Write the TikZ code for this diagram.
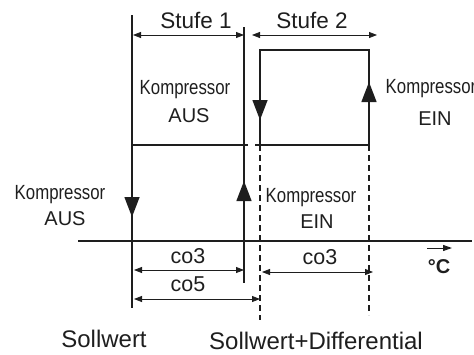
\documentclass[tikz,border=0pt]{standalone}
\usepackage{fontspec}
\setmainfont{Liberation Sans}
\newfontfamily\narrowfont[FakeStretch=0.82]{Liberation Sans}
\usetikzlibrary{arrows.meta}
\definecolor{ink}{HTML}{1E1E1E}
\tikzset{
  main/.style={draw=ink, line width=1.4pt},
  dim/.style={draw=ink, line width=0.8pt, {Triangle[length=8pt,width=6pt]}-{Triangle[length=8pt,width=6pt]}},
  dashline/.style={draw=ink, line width=1.2pt, dash pattern=on 6pt off 4pt},
  bigtip/.style={draw=ink, line width=1.4pt, -{Triangle[length=20pt,width=15pt]}},
  lbl/.style={anchor=base, inner sep=0pt, text=ink},
  stufe/.style={lbl, font=\fontsize{22.5}{27}\selectfont},
  colbl/.style={lbl, font=\fontsize{21.5}{26}\selectfont},
  komp/.style={lbl, font=\narrowfont\fontsize{20.5}{24}\selectfont},
  state/.style={lbl, font=\fontsize{20}{24}\selectfont},
  bottom/.style={lbl, font=\fontsize{24}{29}\selectfont},
}
\begin{document}
\begin{tikzpicture}[x={(1pt,0)}, y={(0,-1pt)}]
\useasboundingbox (0,0) rectangle (474,354);
% coordinates
\coordinate (L1t) at (132,15);  \coordinate (L1b) at (132,308);
\coordinate (L2t) at (244,27);  \coordinate (L2b) at (244,283);
\coordinate (B1) at (260,145); \coordinate (B2) at (260,50);
\coordinate (B3) at (369,50);  \coordinate (B4) at (369,145);
\coordinate (D1) at (260,320); \coordinate (D2) at (369,315);
\coordinate (H1) at (132,145); \coordinate (H2) at (248,145);
\coordinate (H3) at (255,145);
\coordinate (Ax1) at (78,241); \coordinate (Ax2) at (472,241);
% main lines
\draw[main] (L1t) -- (L1b);
\draw[main] (L2t) -- (L2b);
\draw[main] (B1) -- (B2) -- (B3) -- (B4);
\draw[main] (H1) -- (H2);
\draw[main] (H3) -- (B4);
\draw[dashline] (B1) -- (D1);
\draw[dashline] (B4) -- (D2);
\draw[main] (Ax1) -- (Ax2);
% big arrows
\draw[bigtip] (132,190) -- (132,217);
\draw[bigtip] (244,208) -- (244,181);
\draw[bigtip] (260,93) -- (260,120);
\draw[bigtip] (369,109) -- (369,82);
% dimension lines
\coordinate (s1a) at (133,35); \coordinate (s1b) at (244,35);
\coordinate (s2a) at (252,35); \coordinate (s2b) at (377,35);
\coordinate (c3a) at (134,270); \coordinate (c3b) at (244,270);
\coordinate (c5a) at (134,299); \coordinate (c5b) at (260,299);
\coordinate (c3c) at (262,272); \coordinate (c3d) at (373,272);
\draw[dim] (s1a) -- (s1b);
\draw[dim] (s2a) -- (s2b);
\draw[dim] (c3a) -- (c3b);
\draw[dim] (c5a) -- (c5b);
\draw[dim] (c3c) -- (c3d);
% degree arrow
\coordinate (dg1) at (427,248); \coordinate (dg2) at (452,248);
\draw[draw=ink, line width=1pt, -{Triangle[length=9pt,width=6pt]}] (dg1) -- (dg2);
% labels
\node[stufe] (st1) at (196,28) {Stufe 1};
\node[stufe] (st2) at (312,28) {Stufe 2};
\node[komp] (k1) at (185,94) {Kompressor};
\node[state] (a1) at (189,122) {AUS};
\node[komp] (k2) at (431,93) {Kompressor};
\node[state] (e2) at (435,125) {EIN};
\node[komp] (k3) at (60,199) {Kompressor};
\node[state] (a3) at (65,225) {AUS};
\node[komp] (k4) at (311,202) {Kompressor};
\node[state] (e4) at (317,228) {EIN};
\node[colbl] (co3a) at (188,263) {co3};
\node[colbl] (co5) at (188,291) {co5};
\node[colbl] (co3b) at (320,264) {co3};
\node[lbl, font=\bfseries\fontsize{20}{24}\selectfont] (deg) at (439,273) {°C};
\node[bottom] (sw) at (104,347) {Sollwert};
\node[bottom] (swd) at (316,349) {Sollwert+Differential};
\end{tikzpicture}
\end{document}
